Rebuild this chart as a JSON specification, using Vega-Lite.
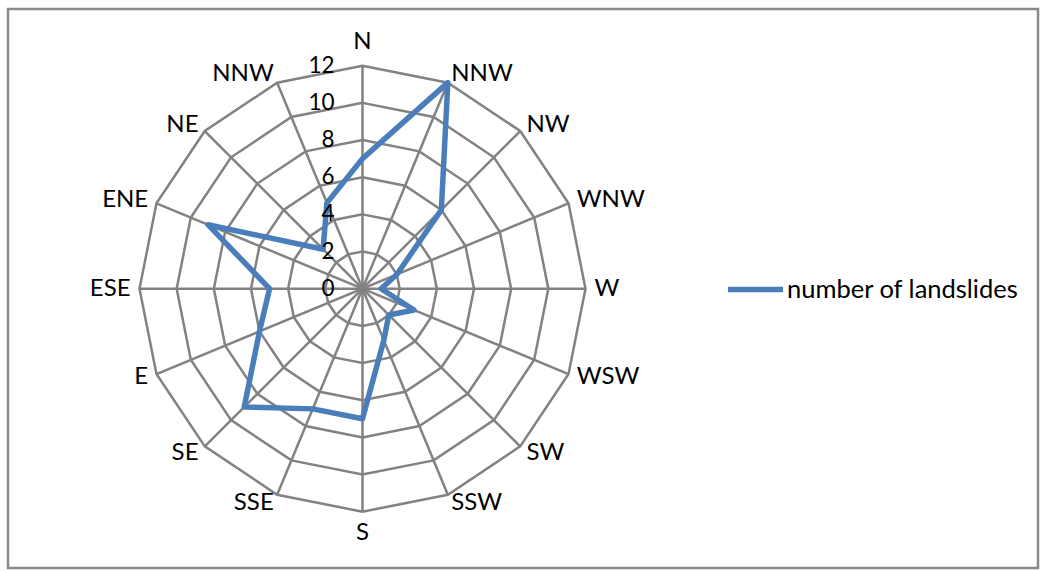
{
  "$schema": "https://vega.github.io/schema/vega-lite/v6.json",
  "width": 1040,
  "height": 571,
  "autosize": {"type": "fit", "contains": "padding"},
  "padding": {"left": 8, "top": 9, "right": 2, "bottom": 3},
  "background": "white",
  "config": {
    "view": {"stroke": "#8a8a8a", "strokeWidth": 2.5},
    "font": "Lato",
    "text": {"font": "Lato", "color": "#000000"}
  },
  "datasets": {
    "landslides": [
      {"direction": "N", "count": 7},
      {"direction": "NNW", "count": 12},
      {"direction": "NW", "count": 6},
      {"direction": "WNW", "count": 2},
      {"direction": "W", "count": 1},
      {"direction": "WSW", "count": 3},
      {"direction": "SW", "count": 2},
      {"direction": "SSW", "count": 3},
      {"direction": "S", "count": 7},
      {"direction": "SSE", "count": 7},
      {"direction": "SE", "count": 9},
      {"direction": "E", "count": 6},
      {"direction": "ESE", "count": 5},
      {"direction": "ENE", "count": 9},
      {"direction": "NE", "count": 3},
      {"direction": "NNW", "count": 5}
    ],
    "ticks": [
      {"level": 0}, {"level": 2}, {"level": 4}, {"level": 6},
      {"level": 8}, {"level": 10}, {"level": 12}
    ]
  },
  "encoding": {
    "x": {"field": "px", "type": "quantitative", "axis": null,
          "scale": {"domain": [-19.076, 36.35], "nice": false, "zero": false}},
    "y": {"field": "py", "type": "quantitative", "axis": null,
          "scale": {"domain": [-15.03, 15.051], "nice": false, "zero": false}}
  },
  "layer": [
    {
      "data": {"name": "landslides"},
      "transform": [
        {"window": [{"op": "row_number", "as": "idx"}]},
        {"calculate": "(datum.idx - 1) * PI / 8", "as": "theta"},
        {"calculate": "[2, 4, 6, 8, 10, 12]", "as": "ring"},
        {"flatten": ["ring"]},
        {"calculate": "datum.ring * sin(datum.theta)", "as": "px"},
        {"calculate": "datum.ring * cos(datum.theta)", "as": "py"}
      ],
      "mark": {"type": "line", "interpolate": "linear-closed", "color": "#828282", "strokeWidth": 2.5},
      "encoding": {
        "detail": {"field": "ring", "type": "nominal"},
        "order": {"field": "idx", "type": "quantitative"}
      }
    },
    {
      "data": {"name": "landslides"},
      "transform": [
        {"window": [{"op": "row_number", "as": "idx"}]},
        {"calculate": "(datum.idx - 1) * PI / 8", "as": "theta"},
        {"calculate": "12 * sin(datum.theta)", "as": "px"},
        {"calculate": "12 * cos(datum.theta)", "as": "py"}
      ],
      "mark": {"type": "rule", "color": "#828282", "strokeWidth": 2.5},
      "encoding": {
        "x2": {"datum": 0},
        "y2": {"datum": 0}
      }
    },
    {
      "data": {"name": "landslides"},
      "transform": [
        {"window": [{"op": "row_number", "as": "idx"}]},
        {"calculate": "(datum.idx - 1) * PI / 8", "as": "theta"},
        {"calculate": "datum.count * sin(datum.theta)", "as": "px"},
        {"calculate": "datum.count * cos(datum.theta)", "as": "py"}
      ],
      "mark": {"type": "line", "interpolate": "linear-closed", "strokeWidth": 5.5,
               "strokeJoin": "round", "strokeCap": "round"},
      "encoding": {
        "order": {"field": "idx", "type": "quantitative"},
        "color": {
          "datum": "number of landslides",
          "type": "nominal",
          "scale": {"range": ["#4a7ebb"]},
          "legend": {
            "title": null,
            "orient": "none",
            "legendX": 717,
            "legendY": 250,
            "padding": 0,
            "symbolType": "stroke",
            "symbolSize": 3025,
            "symbolStrokeWidth": 5.5,
            "labelFont": "Lato",
            "labelFontSize": 25.5,
            "labelLimit": 0,
            "labelColor": "#000000",
            "labelOffset": 1
          }
        }
      }
    },
    {
      "data": {"name": "ticks"},
      "transform": [
        {"calculate": "0", "as": "px"},
        {"calculate": "datum.level", "as": "py"}
      ],
      "mark": {"type": "text", "align": "right", "baseline": "middle", "dx": -28, "fontSize": 22.5},
      "encoding": {"text": {"field": "level", "type": "quantitative"}}
    },
    {
      "data": {"name": "landslides"},
      "transform": [
        {"window": [{"op": "row_number", "as": "idx"}]},
        {"calculate": "(datum.idx - 1) * PI / 8", "as": "theta"},
        {"filter": "sin(datum.theta) > 0.01"},
        {"calculate": "12.48 * sin(datum.theta)", "as": "px"},
        {"calculate": "12.48 * cos(datum.theta)", "as": "py"}
      ],
      "mark": {"type": "text", "align": "left", "baseline": "middle", "fontSize": 24},
      "encoding": {"text": {"field": "direction", "type": "nominal"}}
    },
    {
      "data": {"name": "landslides"},
      "transform": [
        {"window": [{"op": "row_number", "as": "idx"}]},
        {"calculate": "(datum.idx - 1) * PI / 8", "as": "theta"},
        {"filter": "sin(datum.theta) < -0.01"},
        {"calculate": "12.48 * sin(datum.theta)", "as": "px"},
        {"calculate": "12.48 * cos(datum.theta)", "as": "py"}
      ],
      "mark": {"type": "text", "align": "right", "baseline": "middle", "fontSize": 24},
      "encoding": {"text": {"field": "direction", "type": "nominal"}}
    },
    {
      "data": {"name": "landslides"},
      "transform": [
        {"window": [{"op": "row_number", "as": "idx"}]},
        {"calculate": "(datum.idx - 1) * PI / 8", "as": "theta"},
        {"filter": "cos(datum.theta) > 0.99"},
        {"calculate": "0", "as": "px"},
        {"calculate": "12.48", "as": "py"}
      ],
      "mark": {"type": "text", "align": "center", "baseline": "bottom", "dy": -3, "fontSize": 24},
      "encoding": {"text": {"field": "direction", "type": "nominal"}}
    },
    {
      "data": {"name": "landslides"},
      "transform": [
        {"window": [{"op": "row_number", "as": "idx"}]},
        {"calculate": "(datum.idx - 1) * PI / 8", "as": "theta"},
        {"filter": "cos(datum.theta) < -0.99"},
        {"calculate": "0", "as": "px"},
        {"calculate": "-12.48", "as": "py"}
      ],
      "mark": {"type": "text", "align": "center", "baseline": "top", "fontSize": 24},
      "encoding": {"text": {"field": "direction", "type": "nominal"}}
    }
  ]
}
